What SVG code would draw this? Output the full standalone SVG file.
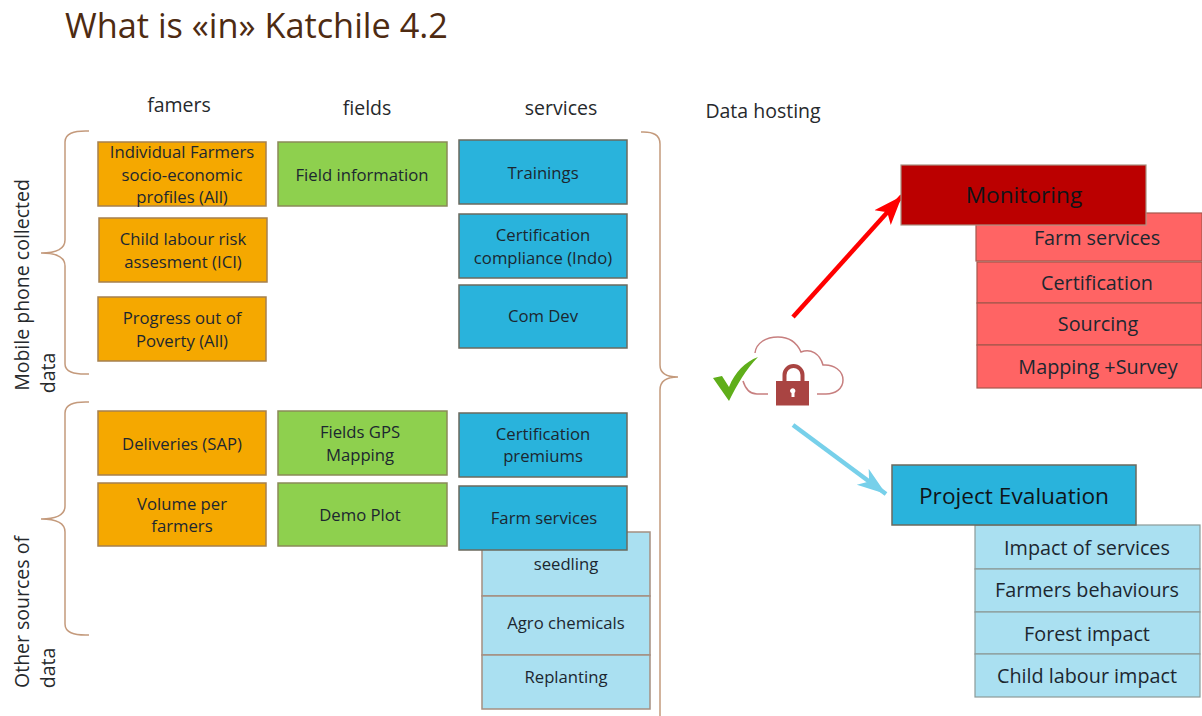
<svg xmlns="http://www.w3.org/2000/svg" width="1202" height="716" viewBox="0 0 1202 716">
<style>
text{font-family:"Open Sans","Noto Sans","Liberation Sans",sans-serif;fill:#1c2730;text-anchor:middle;font-size:16.7px}
.h{font-size:19.5px;fill:#26292c}
.t{font-size:34.3px;fill:#4e2b12;text-anchor:start}
.big{font-size:22.700px;fill:#101418}
.r{font-size:19.800px}
.o{fill:#f5a800;stroke:#a5804f;stroke-width:1.5}
.g{fill:#8ed04e;stroke:#8a8a58;stroke-width:1.5}
.b{fill:#29b3dc;stroke:#6b6a5e;stroke-width:1.5}
.l{fill:#aae0f1;stroke:#a58f80;stroke-width:1.5}
.lr{fill:#ff6464;stroke:#a5574c;stroke-width:1.2}
.lb{fill:#aae0f1;stroke:#8c9a98;stroke-width:1.2}
.br{fill:none;stroke:#c49a7c;stroke-width:1.5}
</style>
<defs>
<marker id="ra" markerUnits="userSpaceOnUse" markerWidth="32" markerHeight="30" refX="29" refY="15" orient="auto"><path d="M0 4L29 15L0 26L7 15Z" fill="#ff0000"/></marker>
<marker id="ba" markerUnits="userSpaceOnUse" markerWidth="32" markerHeight="30" refX="29" refY="15" orient="auto"><path d="M0 5L29 15L0 25L8 15Z" fill="#77d0ea"/></marker>
</defs>
<text class="t" x="65" y="38">What is «in» Katchile 4.2</text>
<text class="h" x="179" y="112">famers</text>
<text class="h" x="367" y="115">fields</text>
<text class="h" x="561" y="115">services</text>
<text class="h" x="763" y="118">Data hosting</text>
<g id="side-labels">
<text class="h" transform="translate(29 285) rotate(-90)">Mobile phone collected</text>
<text class="h" transform="translate(55 373) rotate(-90)">data</text>
<text class="h" transform="translate(29 612) rotate(-90)">Other sources of</text>
<text class="h" transform="translate(55 668) rotate(-90)">data</text>
</g>
<g id="braces">
<path class="br" d="M89 131Q65 130 65 142V240Q65 253 41 253Q65 253 65 266V364Q65 375 89 374"/>
<path class="br" d="M89 402Q65 401 65 413V506Q65 519 41 519Q65 519 65 532V624Q65 636 89 635"/>
<path class="br" d="M641 132Q660 131 660 144V365Q660 377 678 377Q660 377 660 390V716"/>
</g>
<g id="n-profiles"><rect class="o" x="98" y="142" width="168" height="64"/><text x="182" y="158">Individual Farmers</text><text x="182" y="181">socio-economic</text><text x="182" y="203">profiles (All)</text></g>
<g id="n-child"><rect class="o" x="99" y="218" width="168" height="64"/><text x="183" y="245">Child labour risk</text><text x="183" y="268">assesment (ICI)</text></g>
<g id="n-poverty"><rect class="o" x="98" y="297" width="168" height="64"/><text x="182" y="324">Progress out of</text><text x="182" y="347">Poverty (All)</text></g>
<g id="n-deliveries"><rect class="o" x="98" y="411" width="168" height="64"/><text x="182" y="450">Deliveries (SAP)</text></g>
<g id="n-volume"><rect class="o" x="98" y="483" width="168" height="63"/><text x="182" y="510">Volume per</text><text x="182" y="532">farmers</text></g>
<g id="n-field"><rect class="g" x="278" y="142" width="169" height="64"/><text x="362" y="181">Field information</text></g>
<g id="n-gps"><rect class="g" x="278" y="411" width="169" height="64"/><text x="360" y="438">Fields GPS</text><text x="360" y="461">Mapping</text></g>
<g id="n-demo"><rect class="g" x="278" y="483" width="169" height="63"/><text x="360" y="521">Demo Plot</text></g>
<g id="n-trainings"><rect class="b" x="459" y="140" width="168" height="64"/><text x="543" y="179">Trainings</text></g>
<g id="n-compliance"><rect class="b" x="459" y="214" width="168" height="64"/><text x="543" y="241">Certification</text><text x="543" y="264">compliance (Indo)</text></g>
<g id="n-comdev"><rect class="b" x="459" y="285" width="168" height="63"/><text x="543" y="322">Com Dev</text></g>
<g id="n-premiums"><rect class="b" x="459" y="413" width="168" height="64"/><text x="543" y="440">Certification</text><text x="543" y="462">premiums</text></g>
<g id="n-seedling"><rect class="l" x="482" y="532" width="168" height="64"/><text x="566" y="570">seedling</text></g>
<g id="n-agro"><rect class="l" x="482" y="596" width="168" height="59"/><text x="566" y="629">Agro chemicals</text></g>
<g id="n-replanting"><rect class="l" x="482" y="655" width="168" height="54"/><text x="566" y="683">Replanting</text></g>
<g id="n-farm"><rect class="b" x="459" y="486" width="168" height="64"/><text x="544" y="524">Farm services</text></g>
<g id="connectors">
<path d="M793 317L902 196" stroke="#ff0000" stroke-width="4.500" fill="none" marker-end="url(#ra)"/>
<path d="M793 425L886 494" stroke="#77d0ea" stroke-width="4.500" fill="none" marker-end="url(#ba)"/>
</g>
<g id="n-cloud">
<path d="M755 353C756 343 766 337 778 337C789 337 797 343 801 352C811 348 820 354 823 365C834 364 843 371 843 380C843 389 835 394 826 394H817M768 394H757Q747 394 743 381" fill="none" stroke="#c77f7f" stroke-width="1.5"/>
<path d="M784.500 381V375A8.500 8.500 0 0 1 802.500 375V381" fill="none" stroke="#a94442" stroke-width="4"/>
<rect x="776" y="381" width="33" height="24.500" fill="#a94442"/>
<path d="M790 391a2.700 2.700 0 1 1 4.500 2v4h-3v-4a2.700 2.700 0 0 1-1.500-2Z" fill="#fff"/>
<path d="M713 378L722 376L729 387C735 372 745 362 758 357C746 369 737 385 729 401Z" fill="#5fae1a"/>
</g>
<g id="n-farm-r"><rect class="lr" x="976" y="213" width="226" height="48"/><text class="r" x="1097" y="245">Farm services</text></g>
<g id="n-cert-r"><rect class="lr" x="977" y="262" width="225" height="41"/><text class="r" x="1097" y="290">Certification</text></g>
<g id="n-sourcing-r"><rect class="lr" x="977" y="303" width="225" height="42"/><text class="r" x="1098" y="331">Sourcing</text></g>
<g id="n-mapping-r"><rect class="lr" x="977" y="345" width="225" height="43"/><text class="r" x="1098" y="374">Mapping +Survey</text></g>
<g id="n-monitoring"><rect x="901" y="165" width="245" height="60" fill="#bb0000" stroke="#a89080" stroke-width="1.200"/><text class="big" x="1024" y="203">Monitoring</text></g>
<g id="n-impact"><rect class="lb" x="975" y="525" width="225" height="44"/><text class="r" x="1087" y="555">Impact of services</text></g>
<g id="n-behaviours"><rect class="lb" x="975" y="569" width="225" height="43"/><text class="r" x="1087" y="597">Farmers behaviours</text></g>
<g id="n-forest"><rect class="lb" x="975" y="612" width="225" height="42"/><text class="r" x="1087" y="641">Forest impact</text></g>
<g id="n-childimpact"><rect class="lb" x="975" y="654" width="225" height="43"/><text class="r" x="1087" y="683">Child labour impact</text></g>
<g id="n-eval"><rect x="892" y="465" width="244" height="60" fill="#29b3dc" stroke="#6b6a5e" stroke-width="1.500"/><text class="big" x="1014" y="504">Project Evaluation</text></g>
</svg>
